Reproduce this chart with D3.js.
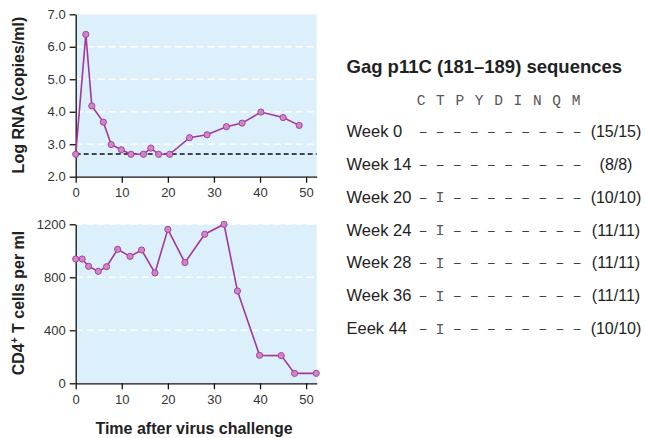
<!DOCTYPE html>
<html>
<head>
<meta charset="utf-8">
<script src="https://cdn.jsdelivr.net/npm/d3@7"></script>
<style>
  html, body { margin: 0; padding: 0; background: #fff; }
  svg { display: block; }
  .axis path, .axis line { stroke: #111; stroke-width: 1.3px; }
</style>
</head>
<body>
<script>
// ---- Data ----
const rnaWeeks = [0, 2.2, 3.5, 6.0, 7.7, 9.9, 12.0, 14.7, 16.3, 18.0, 20.4, 24.7, 28.5, 32.7, 36.1, 40.2, 45.0, 48.5];
const rnaLog   = [2.69, 6.38, 4.18, 3.68, 2.99, 2.83, 2.69, 2.69, 2.88, 2.69, 2.69, 3.2, 3.29, 3.54, 3.65, 3.99, 3.82, 3.58];
const detectionLimit = 2.7;
const cd4Weeks  = [0, 1.4, 2.8, 4.9, 6.7, 9.1, 11.8, 14.3, 17.2, 20.0, 23.7, 28.0, 32.2, 35.1, 39.9, 44.6, 47.5, 52.2];
const cd4Counts = [938, 938, 883, 845, 880, 1011, 958, 1006, 833, 1162, 911, 1125, 1200, 697, 211, 209, 75, 75];
const xTicks   = [0, 10, 20, 30, 40, 50];
const rnaTicks = [2, 3, 4, 5, 6, 7];
const rnaGrid  = [3, 4, 5, 6];
const cd4Ticks = [0, 400, 800, 1200];
const cd4Grid  = [400, 800, 1200];
const seqTitle = "Gag p11C (181–189) sequences";
const seqResidues = ["C", "T", "P", "Y", "D", "I", "N", "Q", "M"];
const seqLabels = ["Week 0", "Week 14", "Week 20", "Week 24", "Week 28", "Week 36", "Eeek 44"];
const seqStrings = ["----------", "----------", "-I--------", "-I--------", "-I--------", "-I--------", "-I--------"];
const seqCounts = ["(15/15)", "(8/8)", "(10/10)", "(11/11)", "(11/11)", "(11/11)", "(10/10)"];

// ---- Style ----
const bg = "#dcf0fb", lineCol = "#a3379b", dotFill = "#cf86c7";
const sans = "'Liberation Sans', Arial, Helvetica, sans-serif";
const mono = "'Liberation Mono', 'Courier New', monospace";

const svg = d3.select("body").append("svg").attr("width", 645).attr("height", 438);

function styleAxis(sel) {
  sel.selectAll("text").attr("font-family", sans).attr("font-size", 13).attr("fill", "#333");
}

function panel(xs, ys, ticksY, gridY, fmt) {
  const g = svg.append("g");
  const [x0, x1] = xs.range();
  const [yb, yt] = ys.range();
  g.append("rect").attr("x", x0).attr("y", yt).attr("width", x1 - x0).attr("height", yb - yt).attr("fill", bg);
  g.selectAll(".grid").data(gridY).join("line")
    .attr("x1", x0).attr("x2", x1).attr("y1", d => ys(d)).attr("y2", d => ys(d))
    .attr("stroke", "#fff").attr("stroke-width", 1.5).attr("stroke-dasharray", "7,4");
  g.append("g").attr("class", "axis").attr("transform", `translate(${x0},0)`)
    .call(d3.axisLeft(ys).tickValues(ticksY).tickFormat(fmt).tickSize(6).tickSizeOuter(0).tickPadding(4))
    .call(styleAxis);
  g.append("g").attr("class", "axis").attr("transform", `translate(0,${yb})`)
    .call(d3.axisBottom(xs).tickValues(xTicks).tickFormat(d3.format("d")).tickSize(6).tickSizeOuter(0).tickPadding(5))
    .call(styleAxis);
  return g;
}

// ---- Top panel ----
const xA = d3.scaleLinear().domain([0, 52.3]).range([75.7, 316.7]);
const yA = d3.scaleLinear().domain([2, 7]).range([176.7, 14.3]);
const gA = panel(xA, yA, rnaTicks, rnaGrid, d3.format(".1f"));
gA.append("line").attr("x1", xA(0)).attr("x2", xA(52.3))
  .attr("y1", yA(detectionLimit)).attr("y2", yA(detectionLimit))
  .attr("stroke", "#111").attr("stroke-width", 1.4).attr("stroke-dasharray", "5,3");
const rnaPts = rnaWeeks.map((w, i) => [w, rnaLog[i]]);
gA.append("path").datum(rnaPts).attr("fill", "none").attr("stroke", lineCol).attr("stroke-width", 1.6)
  .attr("d", d3.line().x(d => xA(d[0])).y(d => yA(d[1])));
gA.selectAll(".dot").data(rnaPts).join("circle")
  .attr("cx", d => xA(d[0])).attr("cy", d => yA(d[1])).attr("r", 3.1)
  .attr("fill", dotFill).attr("stroke", lineCol).attr("stroke-width", 0.9);

// ---- Bottom panel ----
const xB = d3.scaleLinear().domain([0, 52.3]).range([75.7, 316.7]);
const yB = d3.scaleLinear().domain([0, 1200]).range([383.3, 224.3]);
const gB = panel(xB, yB, cd4Ticks, cd4Grid, d3.format("d"));
const cd4Pts = cd4Weeks.map((w, i) => [w, cd4Counts[i]]);
gB.append("path").datum(cd4Pts).attr("fill", "none").attr("stroke", lineCol).attr("stroke-width", 1.6)
  .attr("d", d3.line().x(d => xB(d[0])).y(d => yB(d[1])));
gB.selectAll(".dot").data(cd4Pts).join("circle")
  .attr("cx", d => xB(d[0])).attr("cy", d => yB(d[1])).attr("r", 3.1)
  .attr("fill", dotFill).attr("stroke", lineCol).attr("stroke-width", 0.9);

// ---- Axis titles ----
svg.append("text").attr("transform", "translate(24,95) rotate(-90)")
  .attr("text-anchor", "middle").attr("font-family", sans).attr("font-weight", "bold")
  .attr("font-size", 16).attr("fill", "#222").text("Log RNA (copies/ml)");
const cd4Title = svg.append("text").attr("transform", "translate(23.5,303) rotate(-90)")
  .attr("text-anchor", "middle").attr("font-family", sans).attr("font-weight", "bold")
  .attr("font-size", 16).attr("fill", "#222");
cd4Title.append("tspan").text("CD4");
cd4Title.append("tspan").attr("font-size", 10).attr("dy", -6).text("+");
cd4Title.append("tspan").attr("dy", 6).text(" T cells per ml");
svg.append("text").attr("x", 194).attr("y", 434)
  .attr("text-anchor", "middle").attr("font-family", sans).attr("font-weight", "bold")
  .attr("font-size", 16).attr("fill", "#222").text("Time after virus challenge");

// ---- Sequence table ----
const tbl = svg.append("g");
tbl.append("text").attr("x", 346.5).attr("y", 73).attr("font-family", sans).attr("font-weight", "bold")
  .attr("font-size", 18.5).attr("fill", "#222").text(seqTitle);
const hx = d3.scalePoint().domain(seqResidues).range([421, 576]);
tbl.selectAll(".hdr").data(seqResidues).join("text")
  .attr("x", d => hx(d)).attr("y", 104.5).attr("text-anchor", "middle")
  .attr("font-family", mono).attr("font-size", 14.5)
  .attr("fill", "#555").text(d => d);
const ry = d3.scalePoint().domain(seqLabels).range([131, 328]);
const cx = d3.scalePoint().domain(d3.range(10)).range([423, 577]);
seqLabels.forEach((lab, i) => {
  const y = ry(lab);
  tbl.append("text").attr("x", 346.5).attr("y", y + 6).attr("font-family", sans)
    .attr("font-size", 16.5).attr("fill", "#222").text(lab);
  seqStrings[i].split("").forEach((ch, j) => {
    if (ch === "-") {
      tbl.append("text").attr("x", cx(j)).attr("y", y + 5).attr("text-anchor", "middle")
        .attr("font-family", sans).attr("font-size", 12).attr("fill", "#333").text("–");
    } else {
      tbl.append("text").attr("x", cx(j)).attr("y", y + 5.5).attr("text-anchor", "middle")
        .attr("font-family", mono).attr("font-size", 15)
        .attr("fill", "#555").text(ch);
    }
  });
  tbl.append("text").attr("x", 616).attr("y", y + 6).attr("text-anchor", "middle")
    .attr("font-family", sans).attr("font-size", 16).attr("fill", "#222").text(seqCounts[i]);
});
</script>
</body>
</html>
